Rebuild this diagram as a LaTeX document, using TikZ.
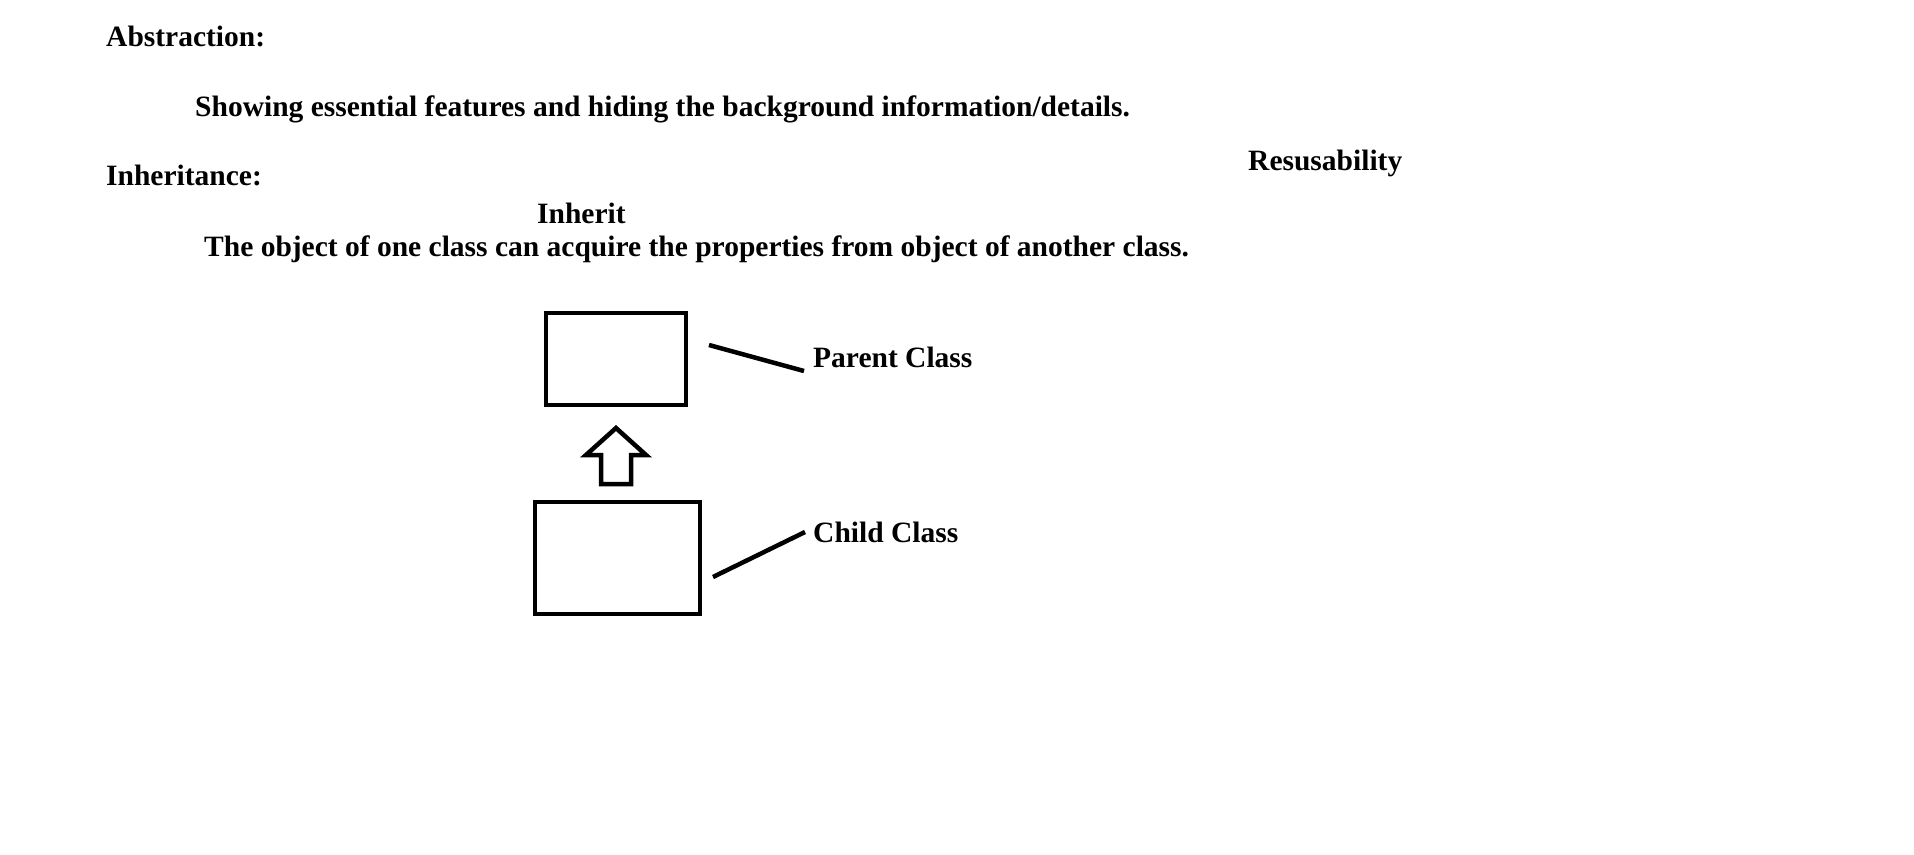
\documentclass[tikz,border=0pt]{standalone}
\usepackage{fontspec}
\setmainfont{Liberation Serif}
\begin{document}
\begin{tikzpicture}[x=1pt,y=-1pt,
	txt/.style={anchor=base west,inner sep=0pt,font=\fontsize{29.5}{35}\selectfont\bfseries},
	cls/.style={draw,line width=4.5pt,inner sep=0pt},
	lnk/.style={line width=4.5pt}]
	\useasboundingbox (0,0) rectangle (1914,854);
	\node[txt] (abs) at (106,46) {Abstraction:};
	\node[txt] (absdef) at (195,116) {Showing essential features and hiding the background information/details.};
	\node[txt] (reuse) at (1248,170) {Resusability};
	\node[txt] (inh) at (106,185) {Inheritance:};
	\node[txt] (inhverb) at (537,223) {Inherit};
	\node[txt] (inhdef) at (204,256) {The object of one class can acquire the properties from object of another class.};
	\node[cls,minimum width=140pt,minimum height=92pt] (parent) at (616,359) {};
	\node[cls,minimum width=165pt,minimum height=112pt] (child) at (617.5,558) {};
	\node[txt] (plabel) at (813,367) {Parent Class};
	\node[txt] (clabel) at (813,542) {Child Class};
	\coordinate (p1) at (709,345);
	\coordinate (p2) at (804,371);
	\coordinate (c1) at (713,577);
	\coordinate (c2) at (805,532);
	%\draw[->] (child) -- (parent);
	\draw[lnk,line join=miter] (616,428) -- (646,455) -- (631,455) -- (631,484)
		-- (601,484) -- (601,455) -- (586,455) -- cycle;
	\path[lnk]
	(p1) edge (p2)
	(c1) edge (c2);
\end{tikzpicture}
\end{document}
